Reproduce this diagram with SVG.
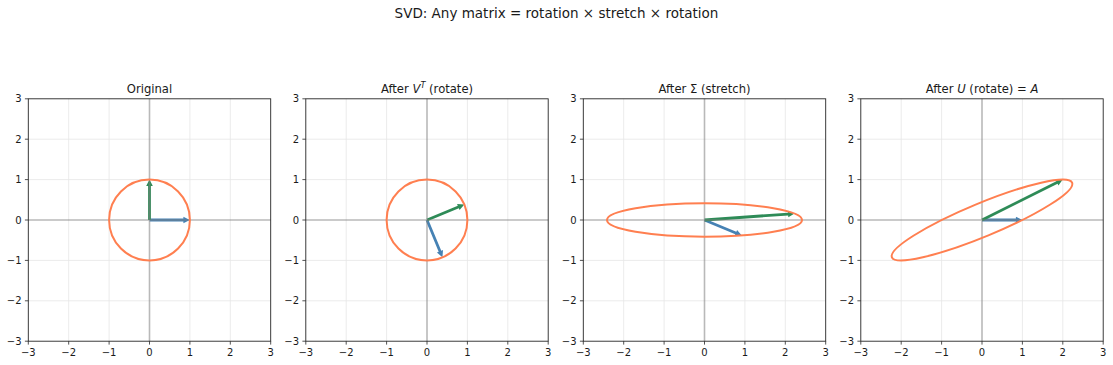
<svg xmlns="http://www.w3.org/2000/svg" xmlns:xlink="http://www.w3.org/1999/xlink" width="1113" height="365" viewBox="0 0 1113 365">
<style>
text{font-family:"DejaVu Sans","Liberation Sans",sans-serif;fill:#1a1a1a}
.sup{font-size:13.5px;text-anchor:middle}
.ttl{font-size:11.6px;text-anchor:middle}
.xl{font-size:10px;text-anchor:middle}
.yl{font-size:10px;text-anchor:end}
.it{font-style:italic}
.grid{stroke:#e6e6e6;stroke-width:0.8;fill:none}
.zero{stroke:#808080;stroke-opacity:0.55;stroke-width:1.6;fill:none}
.spine{stroke:#262626;stroke-width:0.9;fill:none}
.tick{stroke:#262626;stroke-width:0.8}
.curve{stroke:#ff7f50;stroke-width:2;fill:none}
.blue{fill:#4682b4}
.green{fill:#2e8b57}
</style>
<defs>
<g id="frame">
<path class="grid" d="M-80.8,-121.2V121.2M-40.4,-121.2V121.2M40.4,-121.2V121.2M80.8,-121.2V121.2M-121.2,-80.8H121.2M-121.2,-40.4H121.2M-121.2,40.4H121.2M-121.2,80.8H121.2"/>
</g>
<g id="axes">
<path class="zero" d="M0,-121.2V121.2M-121.2,0H121.2"/>
<rect class="spine" x="-121.2" y="-121.2" width="242.4" height="242.4"/>
<path class="tick" d="M-121.2,121.2v3.4M-80.8,121.2v3.4M-40.4,121.2v3.4M0,121.2v3.4M40.4,121.2v3.4M80.8,121.2v3.4M121.2,121.2v3.4M-121.2,-121.2h-3.4M-121.2,-80.8h-3.4M-121.2,-40.4h-3.4M-121.2,0h-3.4M-121.2,40.4h-3.4M-121.2,80.8h-3.4M-121.2,121.2h-3.4"/>
</g>
</defs>
<text class="sup" x="556.5" y="18">SVD: Any matrix = rotation × stretch × rotation</text>

<g id="panel-original" transform="translate(149.5,220)">
<use xlink:href="#frame"/>
<g id="vectors-1">
<path class="blue" d="M0,-1.4H33.9V-3.3L40.4,0L33.9,3.3V1.4H0Z"/>
<path class="green" transform="rotate(-90)" d="M0,-1.4H33.9V-3.3L40.4,0L33.9,3.3V1.4H0Z"/>
</g>
<use xlink:href="#axes"/>
<circle class="curve" cx="0" cy="0" r="40.4"/>
<text class="ttl" x="0" y="-127">Original</text>
<text class="xl" x="-121.2" y="136">−3</text><text class="xl" x="-80.8" y="136">−2</text><text class="xl" x="-40.4" y="136">−1</text><text class="xl" x="0" y="136">0</text><text class="xl" x="40.4" y="136">1</text><text class="xl" x="80.8" y="136">2</text><text class="xl" x="121.2" y="136">3</text>
<text class="yl" x="-128" y="-117.6">3</text><text class="yl" x="-128" y="-77.2">2</text><text class="yl" x="-128" y="-36.8">1</text><text class="yl" x="-128" y="3.6">0</text><text class="yl" x="-128" y="44">−1</text><text class="yl" x="-128" y="84.4">−2</text><text class="yl" x="-128" y="124.8">−3</text>
</g>

<g id="panel-vt" transform="translate(427,220)">
<use xlink:href="#frame"/>
<g id="vectors-2">
<path class="blue" transform="rotate(67.5)" d="M0,-1.4H33.9V-3.3L40.4,0L33.9,3.3V1.4H0Z"/>
<path class="green" transform="rotate(-22.5)" d="M0,-1.4H33.9V-3.3L40.4,0L33.9,3.3V1.4H0Z"/>
</g>
<use xlink:href="#axes"/>
<circle class="curve" cx="0" cy="0" r="40.4"/>
<text class="ttl" x="0" y="-127">After <tspan class="it">V</tspan><tspan class="it" font-size="8.2" dy="-5">T</tspan><tspan dy="5"> (rotate)</tspan></text>
<text class="xl" x="-121.2" y="136">−3</text><text class="xl" x="-80.8" y="136">−2</text><text class="xl" x="-40.4" y="136">−1</text><text class="xl" x="0" y="136">0</text><text class="xl" x="40.4" y="136">1</text><text class="xl" x="80.8" y="136">2</text><text class="xl" x="121.2" y="136">3</text>
<text class="yl" x="-128" y="-117.6">3</text><text class="yl" x="-128" y="-77.2">2</text><text class="yl" x="-128" y="-36.8">1</text><text class="yl" x="-128" y="3.6">0</text><text class="yl" x="-128" y="44">−1</text><text class="yl" x="-128" y="84.4">−2</text><text class="yl" x="-128" y="124.8">−3</text>
</g>

<g id="panel-sigma" transform="translate(704.5,220)">
<use xlink:href="#frame"/>
<g id="vectors-3">
<path class="blue" transform="rotate(22.5)" d="M0,-1.4H33.9V-3.3L40.4,0L33.9,3.3V1.4H0Z"/>
<path class="green" transform="rotate(-4.06)" d="M0,-1.4H83.8V-3.3L90.3,0L83.8,3.3V1.4H0Z"/>
</g>
<use xlink:href="#axes"/>
<ellipse class="curve" cx="0" cy="0" rx="97.5" ry="16.7"/>
<text class="ttl" x="0" y="-127">After Σ (stretch)</text>
<text class="xl" x="-121.2" y="136">−3</text><text class="xl" x="-80.8" y="136">−2</text><text class="xl" x="-40.4" y="136">−1</text><text class="xl" x="0" y="136">0</text><text class="xl" x="40.4" y="136">1</text><text class="xl" x="80.8" y="136">2</text><text class="xl" x="121.2" y="136">3</text>
<text class="yl" x="-128" y="-117.6">3</text><text class="yl" x="-128" y="-77.2">2</text><text class="yl" x="-128" y="-36.8">1</text><text class="yl" x="-128" y="3.6">0</text><text class="yl" x="-128" y="44">−1</text><text class="yl" x="-128" y="84.4">−2</text><text class="yl" x="-128" y="124.8">−3</text>
</g>

<g id="panel-u" transform="translate(982,220)">
<use xlink:href="#frame"/>
<g id="vectors-4">
<path class="blue" d="M0,-1.4H33.9V-3.3L40.4,0L33.9,3.3V1.4H0Z"/>
<path class="green" transform="rotate(-26.57)" d="M0,-1.4H83.8V-3.3L90.3,0L83.8,3.3V1.4H0Z"/>
</g>
<use xlink:href="#axes"/>
<ellipse class="curve" cx="0" cy="0" rx="97.5" ry="16.7" transform="rotate(-22.5)"/>
<text class="ttl" x="0" y="-127">After <tspan class="it">U</tspan> (rotate) = <tspan class="it">A</tspan></text>
<text class="xl" x="-121.2" y="136">−3</text><text class="xl" x="-80.8" y="136">−2</text><text class="xl" x="-40.4" y="136">−1</text><text class="xl" x="0" y="136">0</text><text class="xl" x="40.4" y="136">1</text><text class="xl" x="80.8" y="136">2</text><text class="xl" x="121.2" y="136">3</text>
<text class="yl" x="-128" y="-117.6">3</text><text class="yl" x="-128" y="-77.2">2</text><text class="yl" x="-128" y="-36.8">1</text><text class="yl" x="-128" y="3.6">0</text><text class="yl" x="-128" y="44">−1</text><text class="yl" x="-128" y="84.4">−2</text><text class="yl" x="-128" y="124.8">−3</text>
</g>
</svg>
